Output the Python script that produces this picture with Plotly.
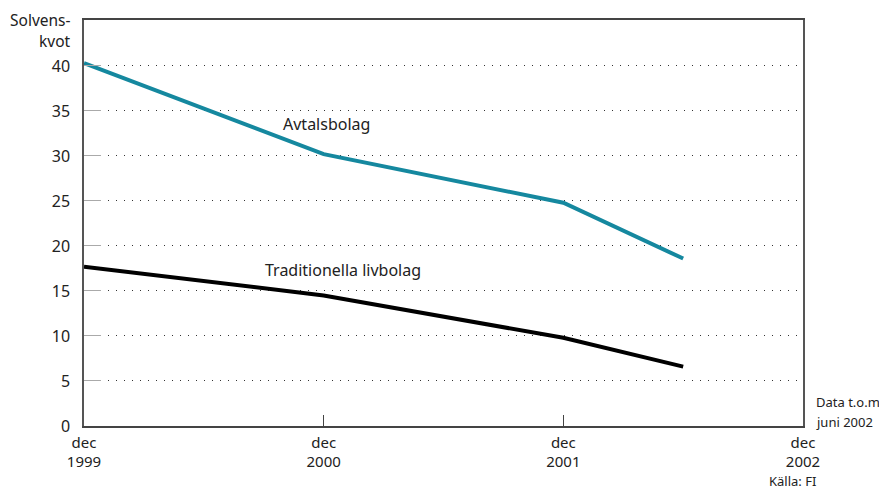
import plotly.graph_objects as go

# Data (x = years since dec 1999)
x_vals = [0, 1, 2, 2.5]
avtalsbolag = [40.3, 30.2, 24.8, 18.6]
traditionella = [17.7, 14.5, 9.8, 6.6]
x_tick_vals = [0, 1, 2, 3]
x_tick_text = ["dec<br>1999", "dec<br>2000", "dec<br>2001", "dec<br>2002"]
y_tick_vals = [0, 5, 10, 15, 20, 25, 30, 35, 40]

FONT = "Noto Sans"
TXT = "#222222"

fig = go.Figure()
fig.add_trace(go.Scatter(x=x_vals, y=avtalsbolag, mode="lines",
                         line=dict(color="#15889f", width=4), name="Avtalsbolag"))
fig.add_trace(go.Scatter(x=x_vals, y=traditionella, mode="lines",
                         line=dict(color="#000000", width=4), name="Traditionella livbolag"))

fig.update_layout(
    width=879, height=482,
    margin=dict(l=76, r=84, t=10, b=64),
    paper_bgcolor="white", plot_bgcolor="white",
    showlegend=False,
    font=dict(family=FONT, size=16, color=TXT),
    xaxis=dict(range=[0, 3], tickvals=x_tick_vals, ticktext=x_tick_text,
               showgrid=False, zeroline=False,
               showline=True, linecolor="#444", linewidth=1.5, mirror=True,
               ticks="inside", ticklen=11, tickcolor="#444", tickwidth=1.2,
               ticklabelstandoff=2,
               tickfont=dict(family=FONT, size=15, color=TXT)),
    yaxis=dict(range=[0, 45.1], tickvals=y_tick_vals,
               showgrid=True, gridcolor="#333", gridwidth=1, griddash="1px,7px",
               zeroline=False,
               showline=True, linecolor="#555", linewidth=1.5, mirror=True,
               ticks="inside", ticklen=17, tickcolor="#aaa", tickwidth=1,
               ticklabelstandoff=9,
               tickfont=dict(family=FONT, size=16, color=TXT)),
)

fig.add_annotation(x=1.01, y=33.5, text="Avtalsbolag", showarrow=False,
                   font=dict(family=FONT, size=16, color=TXT))
fig.add_annotation(x=1.08, y=17.3, text="Traditionella livbolag", showarrow=False,
                   font=dict(family=FONT, size=16, color=TXT))
fig.add_annotation(xref="paper", yref="paper", x=-0.0153, y=1.0, xanchor="right", yanchor="middle",
                   text="Solvens-", showarrow=False,
                   font=dict(family=FONT, size=15.5, color=TXT))
fig.add_annotation(xref="paper", yref="paper", x=-0.0153, y=0.948, xanchor="right", yanchor="middle",
                   text="kvot", showarrow=False,
                   font=dict(family=FONT, size=15.5, color=TXT))
fig.add_annotation(xref="paper", yref="paper", x=1.0153, y=0.060, xanchor="left", yanchor="middle",
                   text="Data t.o.m", showarrow=False,
                   font=dict(family=FONT, size=13, color=TXT))
fig.add_annotation(xref="paper", yref="paper", x=1.0153, y=0.011, xanchor="left", yanchor="middle",
                   text="juni 2002", showarrow=False,
                   font=dict(family=FONT, size=13, color=TXT))
fig.add_annotation(xref="paper", yref="paper", x=1.0208, y=-0.1345, xanchor="right", yanchor="middle",
                   text="Källa: FI", showarrow=False,
                   font=dict(family=FONT, size=13, color=TXT))

fig.write_html("out.html")
